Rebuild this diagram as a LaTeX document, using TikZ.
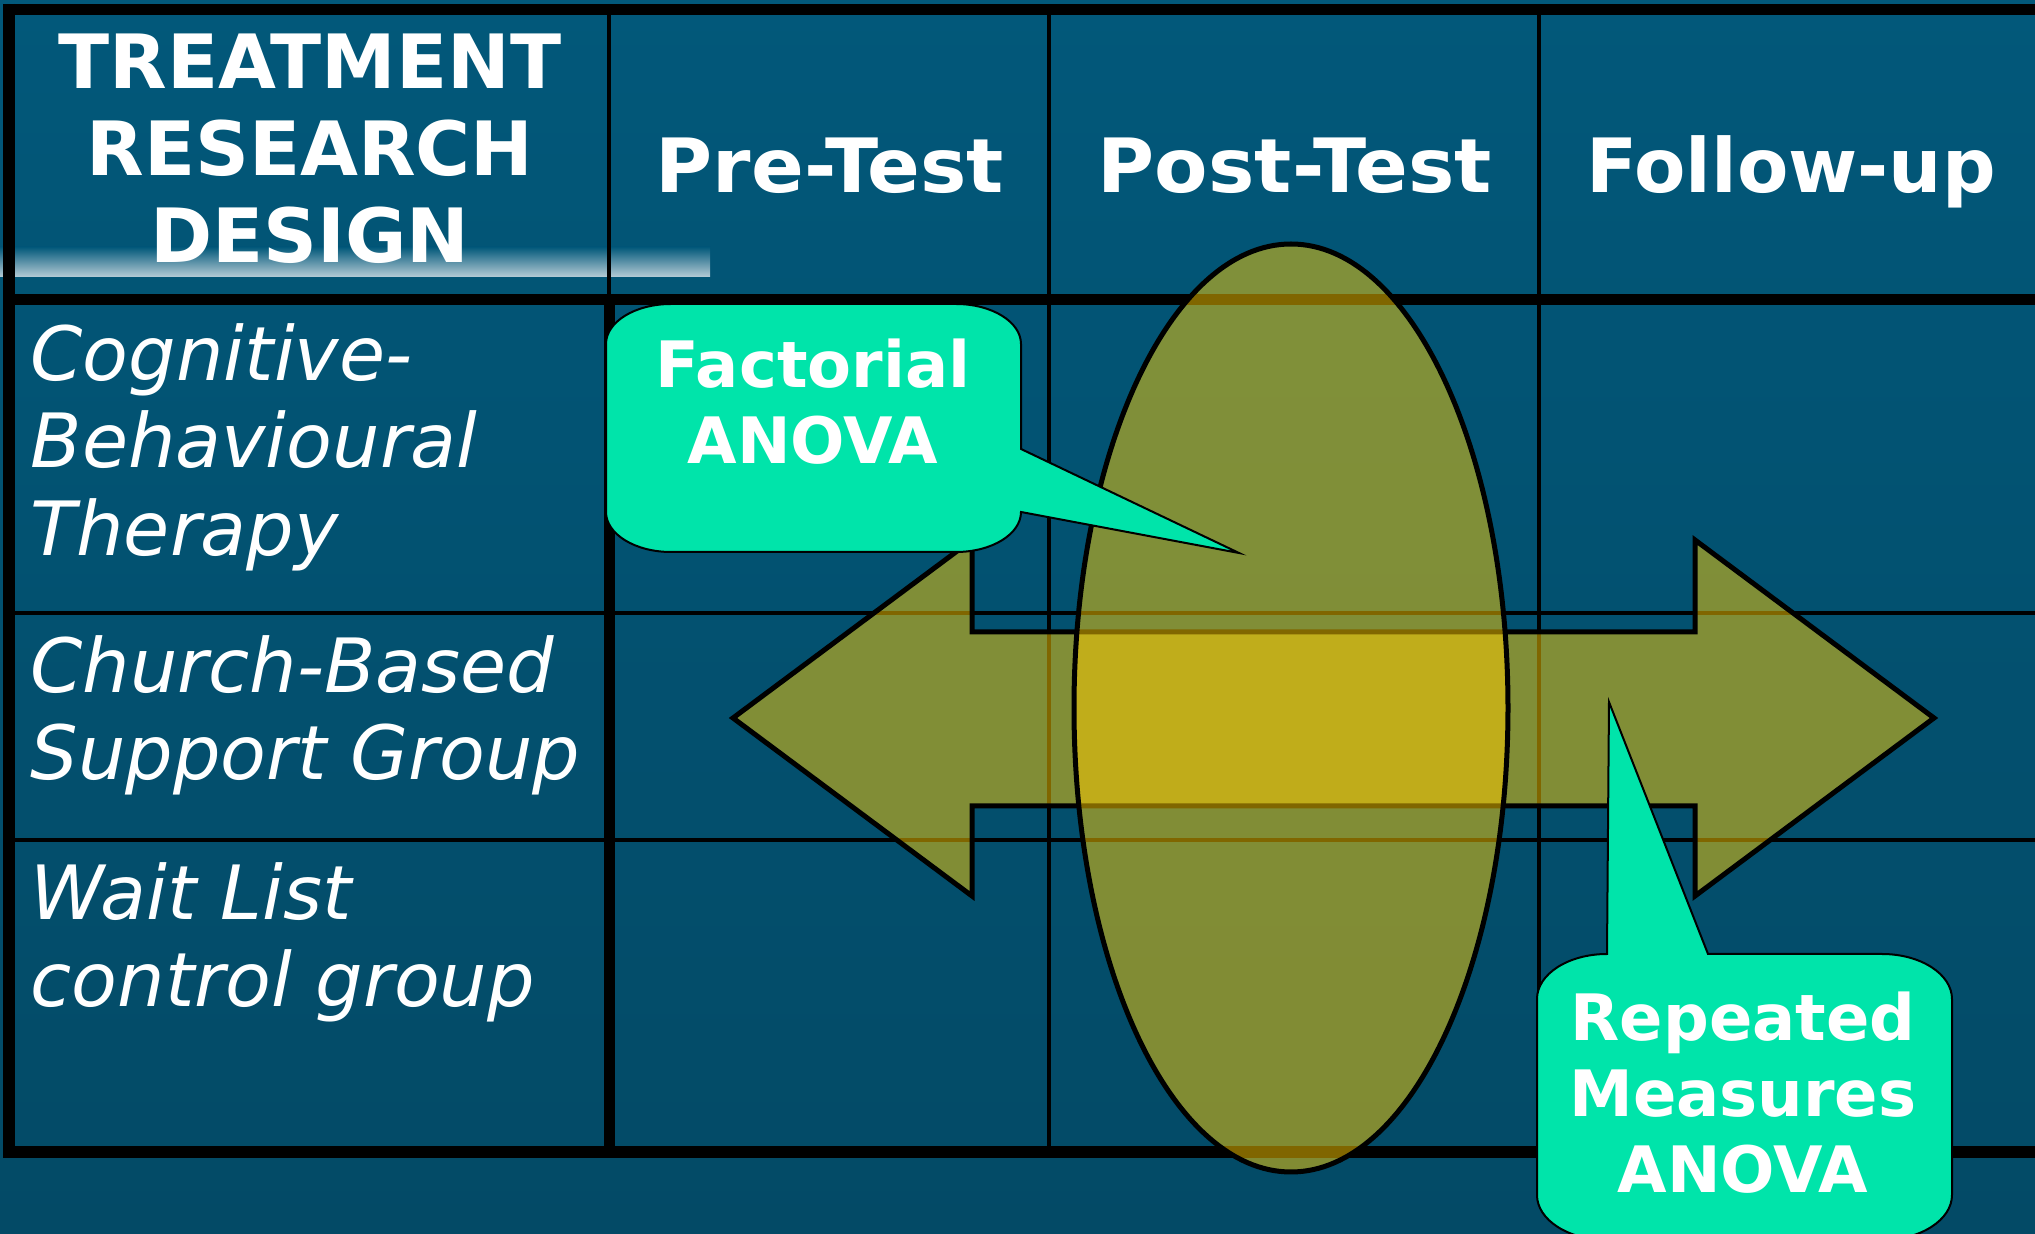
\documentclass[tikz,border=0pt]{standalone}
\usepackage{fontspec}
\setmainfont{DejaVu Sans}

\definecolor{slidebg}{RGB}{2,88,122}
\definecolor{slidebgdark}{RGB}{3,74,102}
\definecolor{stripbg}{RGB}{182,204,214}
\definecolor{mint}{RGB}{0,228,170}
\definecolor{gold}{RGB}{255,204,0}

\begin{document}
\begin{tikzpicture}[x=0.01cm, y=-0.01cm,
  heading/.style={font=\bfseries\fontsize{21.3}{24.8}\selectfont, text=white, inner sep=0pt, align=center},
  group/.style={font=\itshape\fontsize{21.3}{24.8}\selectfont, text=white, inner sep=0pt, align=left, anchor=north west},
  calltext/.style={font=\bfseries\fontsize{18.2}{21.6}\selectfont, text=white, inner sep=0pt, align=center, anchor=north},
  callout/.style={fill=mint, draw=black, line width=0.02cm},
  goldshape/.style={fill=gold, fill opacity=0.5, draw=black, line width=0.05cm},
  gridthin/.style={line width=0.045cm},
  gridthick/.style={line width=0.11cm}]
	\useasboundingbox (0,0) rectangle (2035,1234);
	\clip (0,0) rectangle (2035,1234);

	% Background
	\fill[top color=slidebg, bottom color=slidebgdark] (0,0) rectangle (2035,1234);
	\fill[top color=slidebg, bottom color=stripbg] (0,247) rectangle (710,277);

	% Table frame
	\draw[gridthick] (4,10) -- (2035,10);
	\draw[gridthick] (9,4) -- (9,1158);
	\draw[gridthick] (4,300) -- (2035,300);
	\draw[gridthick] (4,1152) -- (2035,1152);
	\draw[gridthick] (609,300) -- (609,1158);

	% Column and row rules
	\draw[gridthin] (609,10) -- (609,300);
	\draw[gridthin] (1049,10) -- (1049,1158);
	\draw[gridthin] (1539,10) -- (1539,1158);
	\draw[gridthin] (9,613) -- (2035,613);
	\draw[gridthin] (9,840) -- (2035,840);

	% Column headings
	\node[heading, anchor=north] (design) at (310,33) {TREATMENT\\RESEARCH\\DESIGN};
	\node[heading, anchor=base] (pre) at (830,193) {\scalebox{1.04}[1]{Pre-Test}};
	\node[heading, anchor=base] (post) at (1295,193) {\scalebox{1.04}[1]{Post-Test}};
	\node[heading, anchor=base] (follow) at (1791,193) {Follow-up};

	% Groups
	\node[group] (cbt) at (30,323) {Cognitive-\\Behavioural\\Therapy};
	\node[group] (church) at (30,635) {Church-Based\\Support Group};
	\node[group] (wait) at (30,862) {Wait List\\control group};

	% Between-groups arrow and within-time ellipse
	\draw[goldshape] (733,718) -- (972,540) -- (972,632) -- (1695,632) -- (1695,540)
		-- (1934,718) -- (1695,896) -- (1695,806) -- (972,806) -- (972,896) -- cycle;
	\draw[goldshape] (1291,708) ellipse[x radius=217, y radius=464];

	% Callouts
	\coordinate (factTip) at (1239,553);
	\coordinate (repTip) at (1609,702);
	\draw[callout] (671,304) -- (956,304) arc[start angle=-90, end angle=0, x radius=65, y radius=40]
		-- (1021,449) -- (factTip) -- (1021,512) arc[start angle=0, end angle=90, x radius=65, y radius=40]
		-- (671,552) arc[start angle=90, end angle=180, x radius=65, y radius=40]
		-- (606,344) arc[start angle=180, end angle=270, x radius=65, y radius=40] -- cycle;
	\draw[callout] (1607,954) -- (repTip) -- (1708,954)
		-- (1882,954) arc[start angle=-90, end angle=0, x radius=70, y radius=45]
		-- (1952,1195) arc[start angle=0, end angle=90, x radius=70, y radius=45]
		-- (1607,1240) arc[start angle=90, end angle=180, x radius=70, y radius=45]
		-- (1537,999) arc[start angle=180, end angle=270, x radius=70, y radius=45] -- cycle;
	\node[calltext] (factText) at (813,338) {Factorial\\ANOVA};
	\node[calltext] (repText) at (1743,991) {Repeated\\Measures\\ANOVA};
\end{tikzpicture}
\end{document}
